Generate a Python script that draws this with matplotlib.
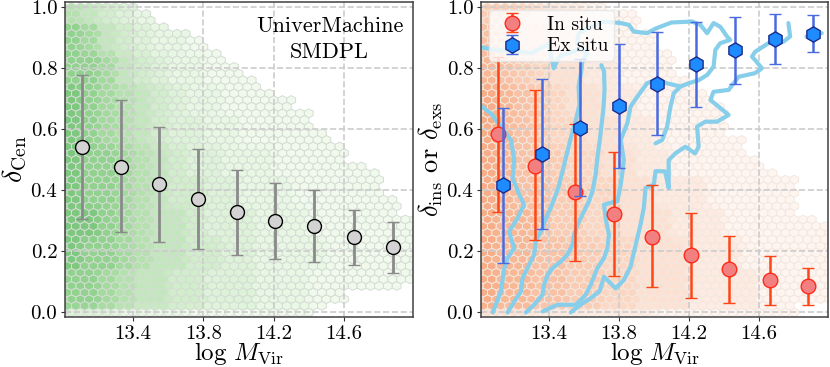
import numpy as np
import matplotlib
matplotlib.use("Agg")
import matplotlib.pyplot as plt
from matplotlib.colors import LinearSegmentedColormap

plt.rcParams['font.family'] = 'serif'
plt.rcParams['font.serif'] = ['cmr10']
plt.rcParams['mathtext.fontset'] = 'cm'
plt.rcParams['axes.formatter.use_mathtext'] = True

# --- binned medians and 16/84 percentiles -------------------------------
mass_cen = [13.11, 13.33, 13.55, 13.77, 13.99, 14.21, 14.43, 14.66, 14.88]
cen_mid = [0.542, 0.477, 0.420, 0.371, 0.329, 0.299, 0.283, 0.246, 0.213]
cen_hi = [0.779, 0.696, 0.607, 0.536, 0.468, 0.425, 0.401, 0.335, 0.297]
cen_lo = [0.305, 0.262, 0.231, 0.207, 0.189, 0.176, 0.166, 0.154, 0.128]

mass_ins = [13.11, 13.32, 13.55, 13.77, 13.99, 14.21, 14.43, 14.66, 14.88]
ins_mid = [0.584, 0.481, 0.393, 0.323, 0.248, 0.187, 0.141, 0.105, 0.087]
ins_hi = [0.836, 0.728, 0.618, 0.527, 0.418, 0.326, 0.250, 0.186, 0.146]
ins_lo = [0.329, 0.236, 0.169, 0.120, 0.082, 0.048, 0.031, 0.024, 0.026]

mass_exs = [13.14, 13.36, 13.58, 13.80, 14.02, 14.24, 14.46, 14.69, 14.91]
exs_mid = [0.416, 0.518, 0.605, 0.676, 0.750, 0.813, 0.859, 0.895, 0.913]
exs_hi = [0.670, 0.764, 0.829, 0.881, 0.919, 0.951, 0.969, 0.977, 0.975]
exs_lo = [0.163, 0.272, 0.381, 0.473, 0.582, 0.674, 0.750, 0.814, 0.854]

# --- background density (relative, 0 = empty) ---------------------------
# columns: log M bins of width 0.1; rows: delta bands, lower edges below
dens_cols = [13.05, 13.15, 13.25, 13.35, 13.45, 13.55, 13.65, 13.75, 13.85, 13.95,
             14.05, 14.15, 14.25, 14.35, 14.45, 14.55, 14.65, 14.75, 14.85, 14.95]
row_lower = [0.95, 0.85, 0.75, 0.65, 0.55, 0.45, 0.35, 0.25, 0.15, 0.02, -1.0]
dens_cen = [
    [6, 5, 4, 3, 2, 1, 1, 1, 1, 1, 0, 0, 0, 0, 0, 0, 0, 0, 0, 0],
    [8, 7, 5, 4, 3, 2, 2, 1, 1, 1, 1, 0, 0, 0, 0, 0, 0, 0, 0, 0],
    [8, 8, 7, 5, 4, 3, 2, 2, 1, 1, 1, 1, 1, 0, 0, 0, 0, 0, 0, 0],
    [9, 8, 7, 6, 5, 4, 3, 2, 2, 1, 1, 1, 1, 1, 1, 0, 0, 0, 0, 0],
    [9, 8, 7, 6, 5, 4, 3, 3, 2, 2, 1, 1, 1, 1, 1, 1, 0, 0, 0, 0],
    [9, 8, 8, 7, 6, 5, 4, 3, 3, 2, 2, 2, 1, 1, 1, 1, 1, 1, 0, 0],
    [9, 8, 8, 7, 6, 5, 4, 4, 3, 3, 2, 2, 2, 1, 1, 1, 1, 1, 1, 0],
    [9, 9, 8, 7, 6, 5, 5, 4, 3, 3, 3, 2, 2, 2, 1, 1, 1, 1, 1, 1],
    [9, 8, 8, 7, 6, 5, 5, 4, 4, 3, 3, 2, 2, 2, 2, 1, 1, 1, 1, 1],
    [8, 8, 7, 6, 5, 5, 4, 4, 3, 3, 3, 2, 2, 2, 1, 1, 1, 1, 1, 1],
    [3, 3, 3, 2, 2, 2, 2, 1, 1, 1, 1, 1, 1, 1, 1, 1, 0, 0, 0, 0],
]
top_cen = [1.0, 1.0, 1.0, 0.99, 0.98, 0.93, 0.92, 0.88, 0.84, 0.80,
           0.76, 0.71, 0.70, 0.65, 0.58, 0.55, 0.48, 0.45, 0.36, 0.31]
bot_cen = [0.0, 0.0, 0.0, 0.0, 0.0, 0.0, 0.0, 0.0, 0.0, 0.0,
           0.0, 0.0, 0.0, 0.01, 0.02, 0.05, 0.08, 0.08, 0.08, 0.11]

dens_ins = [
    [5, 5, 4, 3, 2, 2, 1, 1, 1, 1, 0, 0, 0, 0, 0, 0, 0, 0, 0, 0],
    [6, 5, 4, 4, 3, 2, 2, 1, 1, 1, 1, 1, 0, 0, 0, 0, 0, 0, 0, 0],
    [7, 6, 5, 4, 3, 3, 2, 2, 1, 1, 1, 1, 1, 1, 0, 0, 0, 0, 0, 0],
    [8, 7, 6, 5, 4, 3, 3, 2, 2, 1, 1, 1, 1, 1, 0, 0, 0, 0, 0, 0],
    [8, 7, 6, 5, 4, 4, 3, 3, 2, 2, 1, 1, 1, 1, 1, 0, 0, 0, 0, 0],
    [8, 7, 6, 5, 5, 4, 4, 3, 3, 2, 2, 1, 1, 1, 1, 1, 1, 0, 0, 0],
    [8, 7, 6, 6, 5, 5, 4, 4, 3, 3, 2, 2, 2, 1, 1, 1, 1, 1, 0, 0],
    [8, 7, 7, 6, 5, 5, 4, 4, 3, 3, 3, 2, 2, 2, 1, 1, 1, 1, 1, 1],
    [8, 7, 7, 6, 6, 5, 5, 4, 4, 3, 3, 3, 2, 2, 2, 1, 1, 1, 1, 1],
    [8, 7, 7, 6, 6, 5, 5, 4, 4, 3, 3, 3, 2, 2, 2, 2, 1, 1, 1, 1],
    [3, 3, 3, 2, 2, 2, 2, 2, 2, 2, 1, 1, 1, 1, 1, 1, 1, 1, 0, 0],
]
top_ins = [1.0, 1.0, 1.0, 1.0, 1.0, 1.0, 1.0, 0.98, 0.97, 0.90,
           0.84, 0.76, 0.72, 0.66, 0.57, 0.50, 0.47, 0.44, 0.30, 0.27]
bot_ins = [0.0, 0.0, 0.0, 0.0, 0.0, 0.0, 0.0, 0.0, 0.0, 0.0,
           0.0, 0.0, 0.0, 0.0, 0.0, 0.0, 0.0, 0.0, 0.05, 0.05]

# --- ex-situ contour lines (log M, delta) -------------------------------
cont1_x = [13.00, 13.019, 13.070, 13.127, 13.184, 13.203, 13.193, 13.231, 13.259, 13.222,
           13.174, 13.184, 13.203, 13.165, 13.146, 13.127, 13.080]
cont1_y = [0.680, 0.674, 0.652, 0.609, 0.565, 0.499, 0.440, 0.386, 0.353, 0.309,
           0.266, 0.244, 0.211, 0.178, 0.145, 0.069, 0.000]
cont2_x = [13.165, 13.203, 13.241, 13.250, 13.288, 13.316, 13.326, 13.364, 13.383, 13.411,
           13.440, 13.459, 13.478, 13.497, 13.520, 13.550, 13.575, 13.570, 13.585, 13.590,
           13.601, 13.620, 13.582, 13.516, 13.468, 13.449, 13.428, 13.410, 13.400, 13.305,
           13.200, 13.100, 13.000]
cont2_y = [0.000, 0.036, 0.069, 0.112, 0.156, 0.189, 0.233, 0.276, 0.309, 0.342,
           0.386, 0.418, 0.462, 0.506, 0.560, 0.620, 0.680, 0.740, 0.790, 0.820,
           0.833, 0.849, 0.865, 0.849, 0.843, 0.826, 0.800, 0.850, 0.880, 0.850,
           0.855, 0.860, 0.870]
cont3_x = [13.269, 13.316, 13.364, 13.373, 13.393, 13.421, 13.468, 13.506, 13.535, 13.544,
           13.563, 13.582, 13.601, 13.629, 13.649, 13.667, 13.677, 13.690, 13.700, 13.712,
           13.718, 13.715, 13.700]
cont3_y = [0.000, 0.025, 0.058, 0.091, 0.123, 0.145, 0.167, 0.189, 0.222, 0.254,
           0.287, 0.309, 0.331, 0.364, 0.397, 0.451, 0.506, 0.560, 0.610, 0.670,
           0.730, 0.790, 0.810]
cont4_x = [13.364, 13.449, 13.554, 13.611, 13.639, 13.677, 13.715, 13.734, 13.743, 13.724,
           13.715, 13.743, 13.791, 13.810, 13.820, 13.828, 13.810, 13.848, 13.866, 13.905,
           13.961, 14.009, 14.080, 14.151, 14.198, 14.255, 14.303, 14.340, 14.350, 14.378,
           14.435, 14.417, 14.378, 14.340, 14.303, 14.265, 14.217, 14.100, 14.009, 13.961,
           13.885, 13.857, 13.810, 13.715, 13.639, 13.572, 13.560]
cont4_y = [0.003, 0.025, 0.025, 0.058, 0.091, 0.145, 0.178, 0.211, 0.254, 0.309,
           0.353, 0.358, 0.364, 0.418, 0.460, 0.500, 0.565, 0.620, 0.674, 0.707,
           0.751, 0.762, 0.750, 0.740, 0.751, 0.761, 0.778, 0.805, 0.860, 0.882,
           0.893, 0.904, 0.936, 0.948, 0.915, 0.942, 0.953, 0.950, 0.930, 0.915,
           0.920, 0.942, 0.948, 0.953, 0.936, 0.915, 0.880]
cont5_x = [14.009, 14.047, 14.075, 14.094, 14.113, 14.151]
cont5_y = [0.554, 0.565, 0.609, 0.674, 0.718, 0.740]
cont6_x = [13.525, 13.580, 13.640, 13.690, 13.715, 13.781, 13.828, 13.866, 13.905, 13.923,
           13.942, 13.952, 13.999, 14.009, 14.064, 14.084, 14.084, 14.122, 14.179, 14.235,
           14.255, 14.246, 14.293, 14.360, 14.426, 14.369, 14.322, 14.340, 14.426, 14.483,
           14.577, 14.616, 14.577, 14.559, 14.577, 14.653, 14.738, 14.777, 14.767]
cont6_y = [0.000, 0.025, 0.047, 0.070, 0.117, 0.079, 0.106, 0.150, 0.244, 0.287,
           0.342, 0.408, 0.418, 0.463, 0.462, 0.408, 0.499, 0.521, 0.543, 0.521,
           0.543, 0.609, 0.625, 0.625, 0.647, 0.674, 0.696, 0.723, 0.729, 0.772,
           0.784, 0.800, 0.827, 0.838, 0.854, 0.882, 0.887, 0.904, 0.948]
cont7_x = [14.87, 14.90, 14.957]
cont7_y = [0.904, 0.915, 0.915]
contours = [(cont1_x, cont1_y), (cont2_x, cont2_y), (cont3_x, cont3_y), (cont4_x, cont4_y),
            (cont5_x, cont5_y), (cont6_x, cont6_y), (cont7_x, cont7_y)]


def density_layer(ax, table, top, bot, cmap, vmax, edge):
    grid = np.array(table, float)
    gx, gy = np.meshgrid(np.arange(13.0, 15.0, 0.01) + 0.005, np.arange(0.0, 1.001, 0.01))
    col = np.clip(((gx - dens_cols[0] + 0.05) / 0.1).astype(int), 0, len(dens_cols) - 1)
    row = np.argmax(gy[..., None] >= np.array(row_lower), axis=-1)
    vals = grid[row, col]
    inside = (gy <= np.array(top)[col]) & (gy >= np.array(bot)[col])
    keep = (vals > 0) & inside
    ax.hexbin(gx[keep], gy[keep], C=vals[keep], reduce_C_function=np.mean,
              gridsize=40, extent=(13.0, 15.0, 0.0, 1.0), cmap=cmap, vmin=0, vmax=vmax,
              edgecolors=edge, linewidths=0.7, zorder=1)


def style_axes(ax):
    ax.set_xlim(13.013, 14.993)
    ax.set_ylim(-0.015, 1.017)
    ax.set_xticks([13.4, 13.8, 14.2, 14.6])
    ax.set_xticklabels(['13.4', '13.8', '14.2', '14.6'])
    ax.set_yticks([0.0, 0.2, 0.4, 0.6, 0.8, 1.0])
    ax.set_yticklabels(['0.0', '0.2', '0.4', '0.6', '0.8', '1.0'])
    ax.tick_params(labelsize=15, length=3, width=0.8, color='0.2', pad=2.5)
    ax.set_axisbelow('line')
    ax.grid(True, linestyle='--', color='0.8', linewidth=1.2)
    for s in ax.spines.values():
        s.set_color('0.25')
        s.set_linewidth(1.1)
    ax.set_xlabel(r'$\log\,M_{\rm Vir}$', fontsize=18, labelpad=-1.5)


fig = plt.figure(figsize=(8.3, 3.67), dpi=100)
ax1 = fig.add_axes([0.0783, 0.1362, 0.4193, 0.8583])
ax2 = fig.add_axes([0.5795, 0.1362, 0.4181, 0.8583])

# left panel
density_layer(ax1, dens_cen, top_cen, bot_cen, 'Greens', 19, '#d4ddd4')
mid = np.array(cen_mid)
ax1.errorbar(mass_cen, mid, yerr=[mid - np.array(cen_lo), np.array(cen_hi) - mid],
             fmt='o', ms=10, mfc='#d3d3d3', mec='k', mew=1.0, ecolor='#8a8a8a',
             elinewidth=2, capsize=4.5, capthick=1.8, zorder=4)
ax1.text(0.76, 0.955, 'UniverMachine\nSMDPL', transform=ax1.transAxes, ha='center',
         va='top', fontsize=16, linespacing=1.45)
style_axes(ax1)
ax1.set_ylabel(r'$\delta_{\rm Cen}$', fontsize=20, labelpad=1)

# right panel
peach = LinearSegmentedColormap.from_list('peach', ['#ffffff', '#f59a6a'])
density_layer(ax2, dens_ins, top_ins, bot_ins, peach, 10, '#f3e8e0')
for cx, cy in contours:
    ax2.plot(cx, cy, color='#87ceeb', lw=3, solid_capstyle='round', zorder=2)
mid = np.array(ins_mid)
ax2.errorbar(mass_ins, mid, yerr=[mid - np.array(ins_lo), np.array(ins_hi) - mid],
             fmt='o', ms=10.5, mfc='#f28080', mec='#ff2a1a', mew=1.0, ecolor='#ff4515',
             elinewidth=1.8, capsize=4.5, capthick=1.8, zorder=4, label='In situ')
mid = np.array(exs_mid)
ax2.errorbar(mass_exs, mid, yerr=[mid - np.array(exs_lo), np.array(exs_hi) - mid],
             fmt='h', ms=11, mfc='#1e8cff', mec='#1a2a8c', mew=1.0, ecolor='#4a6ae0',
             elinewidth=1.8, capsize=4.5, capthick=1.8, zorder=5, label='Ex situ')
style_axes(ax2)
ax2.set_ylabel(r'$\delta_{\rm ins}$ or $\delta_{\rm exs}$', fontsize=19, labelpad=1)
ax2.legend(loc='upper left', fontsize=14, framealpha=0.8, edgecolor='0.9',
           borderpad=0.3, handletextpad=0.9, handlelength=1.8, labelspacing=0.2,
           borderaxespad=0.4)

fig.savefig('out.png', dpi=100)
